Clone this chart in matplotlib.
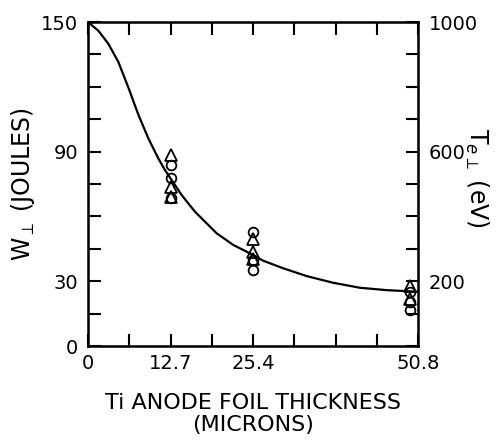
import numpy as np
import matplotlib
matplotlib.use("Agg")
import matplotlib.pyplot as plt

# fit curve (thickness in microns, energy in joules)
curve_t = [0, 1.59, 3.12, 4.66, 6.20, 7.74, 9.28, 10.82, 11.85, 14.42, 16.47,
           17.24, 19.81, 22.37, 24.43, 26.99, 30.07, 33.67, 37.76, 41.87,
           45.98, 48.54, 50.8]
curve_w = [150, 146, 140, 131.6, 119.8, 107.2, 96.2, 86.9, 81.5, 69.9, 62.2,
           59.9, 52.2, 46.8, 43.7, 39.5, 36.0, 32.4, 29.3, 27.0,
           25.9, 25.5, 25.2]

# measured shots
tri_t = [12.7, 12.7, 12.7, 25.4, 25.4, 25.4, 49.6, 49.6]
tri_w = [88.4, 73.8, 69.1, 49.4, 43.7, 40.5, 28, 22]
circ_t = [12.7, 12.7, 12.7, 25.4, 25.4, 25.4, 49.6, 49.6, 49.6]
circ_w = [83.8, 77.9, 68.7, 52.9, 39.8, 35.2, 25, 20.5, 16.7]

x_ticks = [0, 12.7, 25.4, 50.8]
x_minor = np.arange(0, 50.81, 6.35)
w_ticks = [0, 30, 90, 150]
te_ticks = [200, 600, 1000]

plt.rcParams.update({"font.family": "DejaVu Sans", "font.size": 14})

fig = plt.figure(figsize=(5.03, 4.42), dpi=100)
ax = fig.add_axes([0.175, 0.217, 0.656, 0.733])

ax.plot(curve_t, curve_w, color="black", linewidth=1.6)
ax.plot(tri_t, tri_w, linestyle="none", marker="^", markersize=8,
        markerfacecolor="none", markeredgecolor="black", markeredgewidth=1.3,
        clip_on=False)
ax.plot(circ_t, circ_w, linestyle="none", marker="o", markersize=7,
        markerfacecolor="none", markeredgecolor="black", markeredgewidth=1.3,
        clip_on=False)

ax.set_xlim(0, 50.8)
ax.set_ylim(0, 150)
ax.set_xticks(x_minor, minor=True)
ax.set_xticks(x_ticks)
ax.set_xticklabels(["0", "12.7", "25.4", "50.8"])
ax.set_yticks(np.arange(0, 151, 15), minor=True)
ax.set_yticks(w_ticks)
ax.tick_params(which="both", direction="in", length=9, width=1.5,
               top=True, bottom=True, left=True, right=False)
ax.tick_params(axis="x", which="major", pad=6, labelsize=14)
ax.tick_params(axis="y", which="major", pad=7, labelsize=14)
for s in ax.spines.values():
    s.set_linewidth(1.8)

ax.set_xlabel("Ti ANODE FOIL THICKNESS\n(MICRONS)", fontsize=16,
              labelpad=14, linespacing=1.15)
ax.set_ylabel(r"W$_\perp$ (JOULES)", fontsize=17)
ax.yaxis.set_label_coords(-0.155, 0.5)

ax2 = ax.twinx()
ax2.set_ylim(0, 1000)
ax2.set_yticks(np.arange(0, 1001, 100), minor=True)
ax2.set_yticks(te_ticks)
ax2.tick_params(which="both", direction="in", length=9, width=1.5,
                left=False, right=True)
ax2.tick_params(which="major", pad=8, labelsize=14)
ax2.set_ylabel(r"T$_{e\perp}$ (eV)", fontsize=17, rotation=270)
ax2.yaxis.set_label_coords(1.218, 0.52)

fig.savefig("out.png", dpi=100)
